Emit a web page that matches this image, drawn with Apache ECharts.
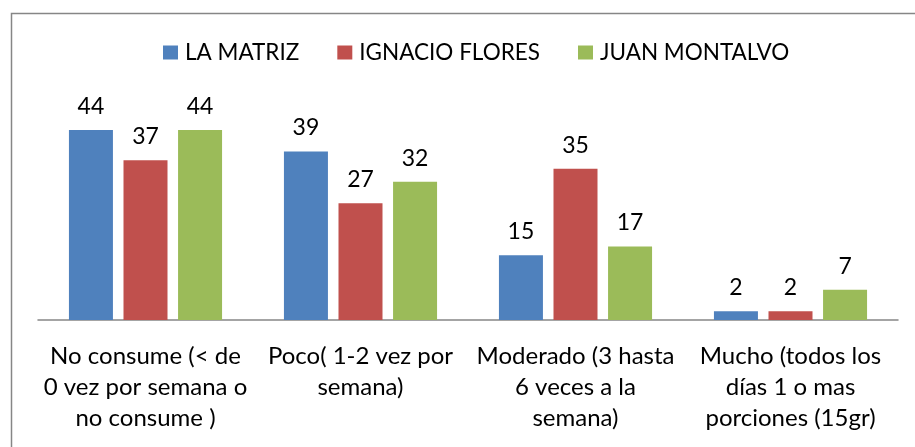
<!DOCTYPE html>
<html>
<head>
<meta charset="utf-8">
<script src="https://cdn.jsdelivr.net/npm/echarts@6/dist/echarts.min.js"></script>
<style>
  html, body { margin: 0; padding: 0; background: #fff; }
  #chart { width: 915px; height: 447px; }
</style>
</head>
<body>
<div id="chart"></div>
<script>
const categories = [
  'No consume (< de\n0 vez por semana o\nno consume )',
  'Poco( 1-2 vez por\nsemana)',
  'Moderado (3 hasta\n6 veces a la\nsemana)',
  'Mucho (todos los\ndías 1 o mas\nporciones (15gr)'
]
const seriesNames = ['LA MATRIZ', 'IGNACIO FLORES', 'JUAN MONTALVO']
const laMatriz = [44, 39, 15, 2]
const ignacioFlores = [37, 27, 35, 2]
const juanMontalvo = [44, 32, 17, 7]
const colors = ['#4F81BD', '#C0504D', '#9BBB59']

const font = 'Lato, "Open Sans", sans-serif'

const chart = echarts.init(document.getElementById('chart'))

const makeSeries = (name, data) => ({
  name: name,
  type: 'bar',
  data: data,
  barWidth: 44,
  barGap: '24%',
  label: {
    show: true,
    position: 'top',
    distance: 12,
    color: '#000',
    fontFamily: font,
    fontSize: 23,
  },
})

const option = {
  animation: false,
  color: colors,
  graphic: [
    {
      type: 'rect',
      left: 9,
      top: 11,
      shape: { width: 1000, height: 1000 },
      style: { fill: 'none', stroke: '#868686', lineWidth: 1.5 },
      silent: true,
    },
  ],
  legend: {
    top: 36,
    left: 158,
    itemWidth: 15,
    itemHeight: 14,
    itemGap: 38,
    icon: 'rect',
    textStyle: {
      color: '#000',
      fontFamily: font,
      fontSize: 22.5,
      padding: [0, 0, 0, 2],
    },
    data: seriesNames,
  },
  grid: {
    left: 38,
    right: 17,
    top: 104,
    bottom: 127,
  },
  xAxis: {
    type: 'category',
    data: categories,
    axisLine: {
      lineStyle: { color: '#868686', width: 1.5 },
    },
    axisTick: { show: false },
    axisLabel: {
      interval: 0,
      margin: 21,
      color: '#000',
      fontFamily: font,
      fontSize: 24,
      lineHeight: 31,
      align: 'center',
    },
  },
  yAxis: {
    type: 'value',
    min: 0,
    max: 50,
    show: false,
    splitLine: { show: false },
  },
  series: [
    makeSeries(seriesNames[0], laMatriz),
    makeSeries(seriesNames[1], ignacioFlores),
    makeSeries(seriesNames[2], juanMontalvo),
  ],
}

chart.setOption(option)
</script>
</body>
</html>
